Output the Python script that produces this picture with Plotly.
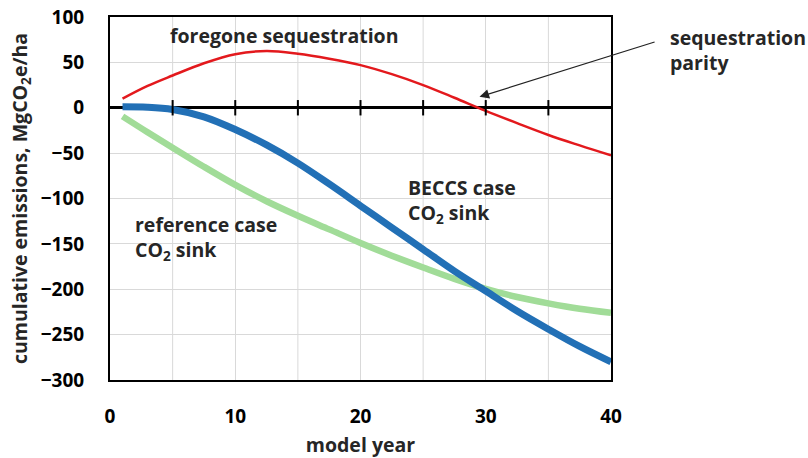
import plotly.graph_objects as go

# model years at which each cumulative-emissions curve is sampled
years = [1, 3, 5, 7.5, 10, 12.5, 15, 17.5, 20, 22.5, 25, 27.5, 30, 32.5, 35, 37.5, 40]

# foregone sequestration (MgCO2e/ha)
foregone = [10, 24, 35.5, 49, 59, 62.5, 59.5, 54, 47, 37, 25, 11, -3.5, -17, -30, -41.5, -52.5]
# BECCS case CO2 sink
beccs = [1, 0.5, -2, -10, -24, -41, -61, -84, -108, -132, -156, -180, -202, -224, -244, -263, -280]
# reference case CO2 sink
reference = [-9.5, -27, -44, -65, -85, -103, -119, -134, -149, -163, -176, -188.5, -199.5,
             -208.5, -215.5, -221.5, -226]

x_ticks = [0, 10, 20, 30, 40]
y_ticks = [-300, -250, -200, -150, -100, -50, 0, 50, 100]
zero_ticks = [5, 10, 15, 20, 25, 30, 35]
grid_x = [5, 15, 25, 35]

FONT = "Open Sans"
TXT = "#262626"
label_font = dict(family=FONT, size=19.5, color=TXT, weight=700)
tick_font = dict(family=FONT, size=19, color="black", weight=700)

fig = go.Figure()

fig.add_trace(go.Scatter(x=years, y=reference, mode="lines",
                         line=dict(color="#a1dc98", width=6.5, shape="spline"),
                         showlegend=False))
fig.add_trace(go.Scatter(x=years, y=beccs, mode="lines",
                         line=dict(color="#2270b6", width=7, shape="spline"),
                         showlegend=False))
fig.add_trace(go.Scatter(x=years, y=foregone, mode="lines",
                         line=dict(color="#e3191d", width=2.5, shape="spline"),
                         showlegend=False))
# tick marks along the zero line
fig.add_trace(go.Scatter(x=zero_ticks, y=[0] * len(zero_ticks), mode="markers",
                         marker=dict(symbol="line-ns", size=11,
                                     line=dict(color="black", width=2)),
                         showlegend=False, hoverinfo="skip"))

fig.add_annotation(x=13.9, y=80, text="foregone sequestration", showarrow=False,
                   font=label_font)
fig.add_annotation(x=1.114, y=0.909, xref="paper", yref="paper",
                   xanchor="left", yanchor="middle",
                   text="sequestration<br>parity", showarrow=False, align="left",
                   font=label_font)
fig.add_annotation(x=29.5, y=12, ax=43.6, ay=73, axref="x", ayref="y",
                   text="", showarrow=True, arrowhead=2, arrowsize=1.6,
                   arrowwidth=1.2, arrowcolor="#222222")
fig.add_annotation(x=23.6, y=-103, xanchor="left", yanchor="middle", align="left",
                   text="BECCS case<br>CO<sub>2</sub> sink", showarrow=False,
                   font=label_font)
fig.add_annotation(x=1.8, y=-143, xanchor="left", yanchor="middle", align="left",
                   text="reference case<br>CO<sub>2</sub> sink", showarrow=False,
                   font=label_font)

# vertical gridlines between the labelled years
for xv in grid_x:
    fig.add_shape(type="line", xref="x", yref="paper", x0=xv, x1=xv, y0=0, y1=1,
                  line=dict(color="#d9d9d9", width=1), layer="below")

fig.update_layout(
    width=808, height=458,
    margin=dict(l=110, r=197, t=17, b=78),
    paper_bgcolor="white", plot_bgcolor="white",
    font=dict(family=FONT, size=19, color="black", weight=700),
    xaxis=dict(range=[0, 40], tickmode="array", tickvals=x_ticks, tickfont=tick_font,
               showgrid=True, gridcolor="#d9d9d9", gridwidth=1,
               showline=True, linecolor="black", linewidth=2, mirror=True,
               ticks="", zeroline=False, ticklabelstandoff=18, automargin=False,
               title=dict(text="model year", font=label_font, standoff=12)),
    yaxis=dict(range=[-300, 100], tickmode="array", tickvals=y_ticks, tickfont=tick_font,
               showgrid=True, gridcolor="#d9d9d9", gridwidth=1,
               showline=True, linecolor="black", linewidth=2, mirror=True,
               ticks="", zeroline=True, zerolinecolor="black", zerolinewidth=2.5,
               ticklabelstandoff=20, automargin=False,
               title=dict(text="cumulative emissions, MgCO<sub>2</sub>e/ha",
                          font=label_font, standoff=8)),
)

fig.write_html("out.html")
